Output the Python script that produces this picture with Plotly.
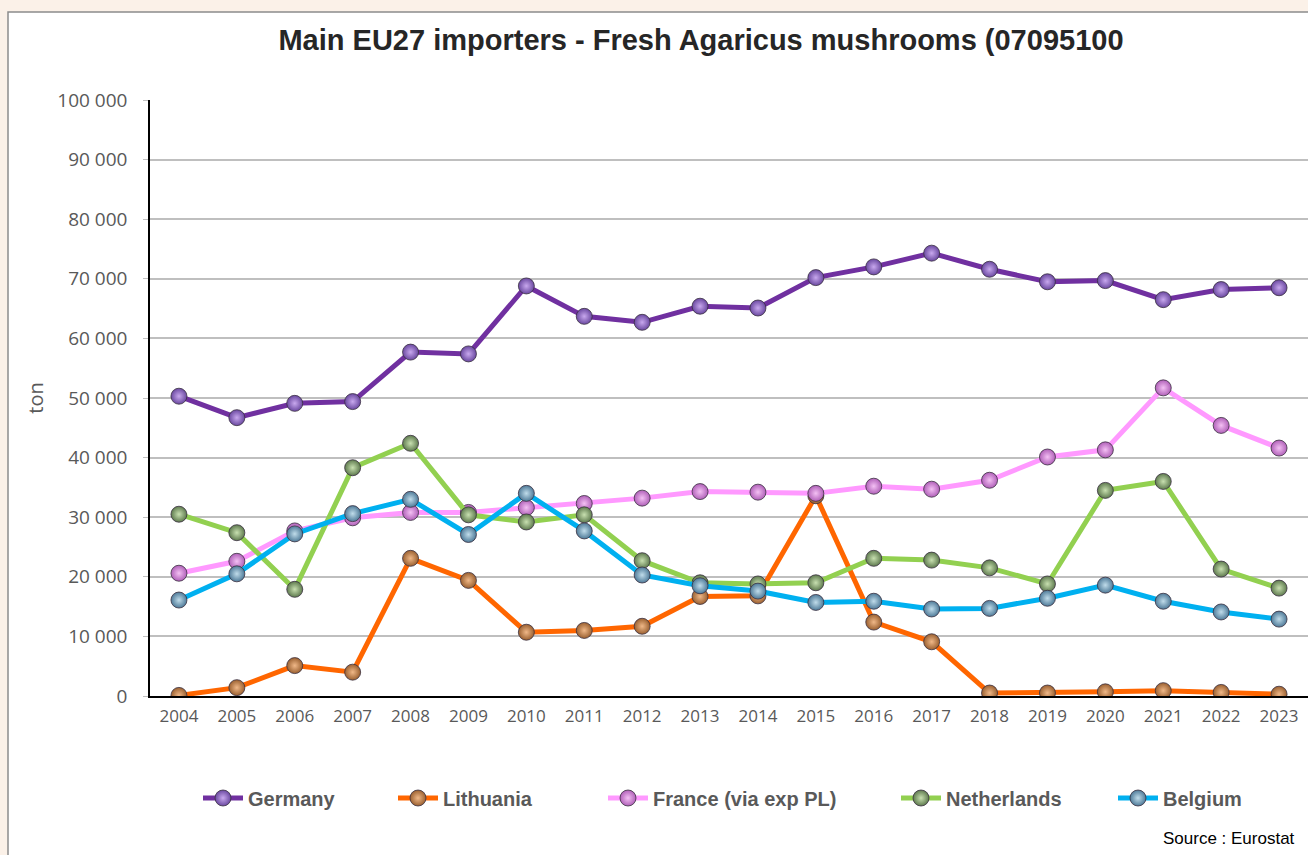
import plotly.graph_objects as go

years = [str(y) for y in range(2004, 2024)]

germany = [50300, 46700, 49100, 49400, 57700, 57400, 68800, 63700, 62700, 65400,
           65100, 70200, 72000, 74300, 71600, 69500, 69700, 66500, 68200, 68500]
lithuania = [100, 1400, 5100, 4000, 23100, 19400, 10700, 11000, 11700, 16700,
             16800, 33600, 12400, 9100, 500, 500, 700, 900, 600, 300]
france = [20600, 22600, 27700, 29900, 30800, 30800, 31600, 32300, 33200, 34300,
          34200, 34000, 35200, 34700, 36200, 40100, 41300, 51700, 45400, 41600]
netherlands = [30500, 27400, 17900, 38300, 42400, 30400, 29200, 30400, 22700, 19000,
               18800, 19000, 23100, 22800, 21500, 18800, 34500, 36000, 21300, 18100]
belgium = [16100, 20500, 27200, 30600, 33000, 27100, 34000, 27700, 20300, 18500,
           17600, 15700, 15900, 14600, 14700, 16400, 18600, 15900, 14100, 12900]

series = [
    ("Germany", germany, "#7030a0", "#6a48a0", "#c8a8ee"),
    ("Lithuania", lithuania, "#ff6600", "#9a6030", "#f0b888"),
    ("France (via exp PL)", france, "#ff99ff", "#b060b8", "#f4c0f4"),
    ("Netherlands", netherlands, "#92d050", "#5e7a4e", "#c8e0b0"),
    ("Belgium", belgium, "#00b0f0", "#4e7a98", "#c0dcea"),
]

W0, H0 = 1308, 855
L, R, T, B = 150, 0, 100, 159
pw, ph = W0 - L - R, H0 - T - B


def px(x):
    return (x - L) / pw


def py(y):
    return (H0 - B - y) / ph


legend_starts = [196, 391, 601, 894, 1111]
legend_names = ["legend", "legend2", "legend3", "legend4", "legend5"]

fig = go.Figure()
for i, (name, vals, lc, mc, hc) in enumerate(series):
    fig.add_trace(go.Scatter(
        x=years, y=vals, name=name, mode="lines+markers",
        line=dict(color=lc, width=5),
        marker=dict(size=16, color=mc, line=dict(color="#3a3040", width=0.8),
                    gradient=dict(type="radial", color=hc)),
        legend=legend_names[i],
    ))

legend_font = dict(size=20, color="#595959", family="Liberation Sans, sans-serif", weight="bold")
legends = {}
for i, ln in enumerate(legend_names):
    legends[ln] = dict(orientation="h", x=px(legend_starts[i] + 2), xanchor="left",
                       y=py(798), yanchor="middle", font=legend_font,
                       itemwidth=40, bgcolor="rgba(0,0,0,0)")

fig.add_shape(type="rect", xref="paper", yref="paper",
              x0=px(8), x1=px(1320), y0=py(12), y1=py(870),
              fillcolor="white", line=dict(color="#8c8c8c", width=1.5), layer="below")

fig.update_layout(
    width=W0, height=H0,
    margin=dict(l=L, r=R, t=T, b=B),
    paper_bgcolor="#fbf1e8",
    plot_bgcolor="rgba(0,0,0,0)",
    font=dict(family="Liberation Sans, sans-serif", color="#595959"),
    title=dict(text="<b>Main EU27 importers - Fresh Agaricus mushrooms (07095100</b>",
               x=701 / W0, xanchor="center", y=1 - 40 / H0, yanchor="middle",
               font=dict(size=29, color="#262626", family="Liberation Sans, sans-serif")),
    showlegend=True,
    **legends,
    xaxis=dict(type="category", range=[-0.5, 19.5], showgrid=False,
               showline=True, linecolor="#000000", linewidth=1.5,
               ticks="", ticklabelstandoff=4,
               tickfont=dict(size=17, color="#595959", family="Open Sans, sans-serif")),
    yaxis=dict(range=[0, 100000], tickvals=list(range(0, 100001, 10000)),
               ticktext=["0"] + [f"{v // 1000} 000" for v in range(10000, 100001, 10000)],
               showgrid=True, gridcolor="#bfbfbf", gridwidth=1.5,
               showline=True, linecolor="#000000", linewidth=1.5,
               ticks="outside", ticklen=5, tickcolor="#bfbfbf",
               ticklabelstandoff=12,
               zeroline=False,
               tickfont=dict(size=19, color="#595959", family="Open Sans, sans-serif"),
               title=dict(text="ton", font=dict(size=20, color="#595959", family="Open Sans, sans-serif"),
                          standoff=8)),
    annotations=[dict(text="Source : Eurostat", xref="paper", yref="paper",
                      x=px(1297), y=py(838), xanchor="right", yanchor="middle",
                      showarrow=False,
                      font=dict(size=17, color="#000000", family="Liberation Sans, sans-serif"))],
)

fig.write_html("out.html", config={"displayModeBar": False},
               post_script="document.body.style.margin='0';document.body.style.overflow='hidden';")
